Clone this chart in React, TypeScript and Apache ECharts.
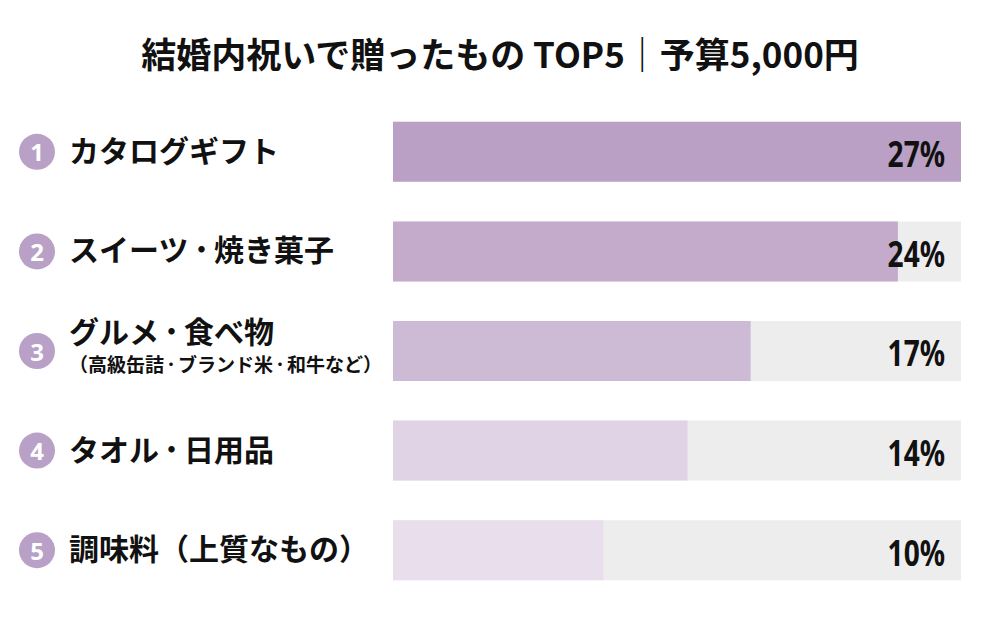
import React, { useEffect, useRef } from "react";
import * as echarts from "echarts";

const titleText = "結婚内祝いで贈ったもの TOP5｜予算5,000円";
const ranks = ["1", "2", "3", "4", "5"];
const categories = ["カタログギフト", "スイーツ・焼き菓子", "グルメ・食べ物", "タオル・日用品", "調味料（上質なもの）"];
const subLabels = ["", "", "（高級缶詰・ブランド米・和牛など）", "", ""];
const values = [27, 24, 17, 14, 10];
const barColors = ["#baa0c5", "#c4abcb", "#cdbbd6", "#e0d3e5", "#e9deeb"];
const maxValue = 27;

const JP = '"Noto Sans CJK JP", "Noto Sans", sans-serif';
const NUM = '"Noto Sans", "Noto Sans CJK JP", sans-serif';

const withDots = (s: string, main: string, dot: string) =>
  s.split("・").map((p) => `{${main}|${p}}`).join(`{${dot}|・}`);

export default function App() {
  const ref = useRef<HTMLDivElement>(null);
  useEffect(() => {
    if (!ref.current) return;
    const chart = echarts.init(ref.current, undefined, { renderer: "svg" });
    chart.setOption({
      animation: false,
      backgroundColor: "#ffffff",
      title: {
        text: titleText,
        left: "center",
        top: 30,
        textStyle: { fontFamily: JP, fontSize: 35, fontWeight: "bold", color: "#111111" },
      },
      grid: { left: 393, right: 39, top: 102, bottom: 19 },
      xAxis: {
        type: "value",
        min: 0,
        max: maxValue,
        show: false,
      },
      yAxis: [
        {
          type: "category",
          data: categories,
          inverse: true,
          axisLine: { show: false },
          axisTick: { show: false },
          axisLabel: {
            align: "left",
            margin: 324,
            padding: [0, 0, 6, 0],
            formatter: (v: string, i: number) =>
              subLabels[i]
                ? `${withDots(v, "m", "d")}\n${withDots(subLabels[i], "s", "sd")}`
                : withDots(v, "m", "d"),
            rich: {
              m: { fontFamily: JP, fontSize: 30, fontWeight: "bold", color: "#111111", lineHeight: 30 },
              d: { fontFamily: JP, fontSize: 25, fontWeight: "bold", color: "#111111", lineHeight: 30 },
              s: { fontFamily: JP, fontSize: 19, fontWeight: "bold", color: "#111111", lineHeight: 36 },
              sd: { fontFamily: JP, fontSize: 14, fontWeight: "bold", color: "#111111", lineHeight: 36 },
            },
          },
        },
        {
          type: "category",
          data: ranks,
          inverse: true,
          position: "left",
          axisLine: { show: false },
          axisTick: { show: false },
          axisLabel: {
            align: "left",
            margin: 374,
            formatter: (v: string) => `{b|${v}}`,
            rich: {
              b: {
                fontFamily: NUM,
                fontSize: 24,
                fontWeight: "bold",
                color: "#ffffff",
                backgroundColor: "#b9a0c6",
                borderRadius: 18,
                width: 36,
                height: 36,
                align: "center",
                lineHeight: 36,
              },
            },
          },
        },
      ],
      series: [
        {
          type: "bar",
          yAxisIndex: 0,
          data: categories.map(() => maxValue),
          barWidth: 60,
          itemStyle: { color: "#ededed" },
          z: 1,
          silent: true,
        },
        {
          type: "bar",
          yAxisIndex: 0,
          barGap: "-100%",
          barWidth: 60,
          data: values.map((v, i) => ({ value: v, itemStyle: { color: barColors[i] } })),
          z: 2,
        },
        {
          type: "custom",
          yAxisIndex: 0,
          z: 5,
          data: values.map((v, i) => [maxValue, i, v]),
          encode: { x: 0, y: 1 },
          renderItem: (_params: any, api: any) => {
            const pt = api.coord([api.value(0), api.value(1)]);
            return {
              type: "text",
              x: pt[0] - 16,
              y: pt[1] + 1,
              scaleX: 0.78,
              style: {
                text: `${api.value(2)}%`,
                fill: "#111111",
                fontFamily: NUM,
                fontSize: 36,
                fontWeight: "bold",
                align: "right",
                verticalAlign: "middle",
              },
            };
          },
        },
      ],
    });
    return () => chart.dispose();
  }, []);
  return <div ref={ref} style={{ width: 1000, height: 619, position: "absolute", left: 0, top: 0 }} />;
}
